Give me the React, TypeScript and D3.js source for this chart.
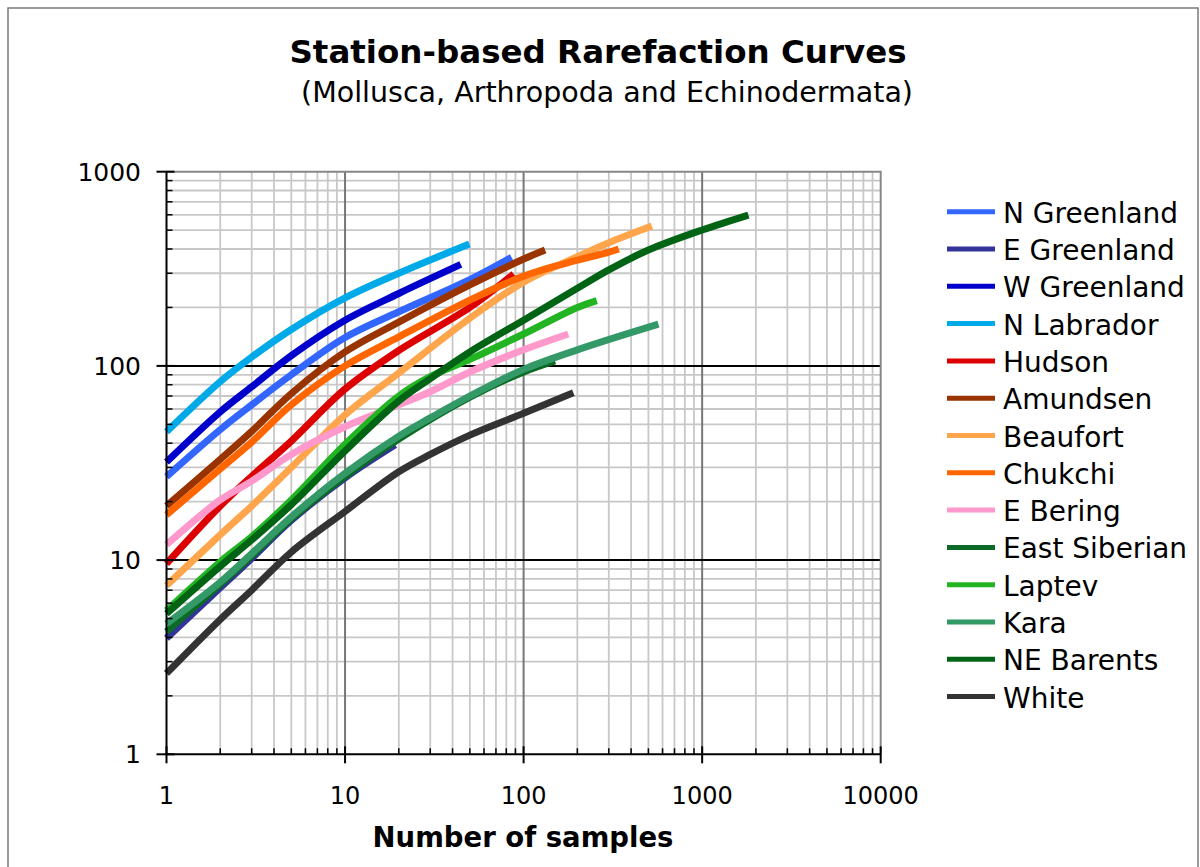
import React, { useEffect, useRef } from "react";
import * as d3 from "d3";

// [samples, species] pairs
const nGreenland = [[1, 26.9], [2, 47], [3, 63], [5, 90], [10, 140], [20, 190], [50, 278], [85.7, 362]];
const eGreenland = [[1, 3.96], [2, 7.2], [3, 10.2], [5, 16], [10, 26.5], [19.1, 39.2]];
const wGreenland = [[1, 32], [2, 58], [3, 78], [5, 113], [10, 172], [20, 236], [44.5, 333]];
const nLabrador = [[1, 45.8], [2, 83], [3, 111], [5, 154], [10, 224], [20, 300], [49.7, 424]];
const hudson = [[1, 9.6], [2, 19], [3, 27], [5, 41], [10, 76], [20, 120], [50, 200], [88, 297]];
const amundsen = [[1, 19], [2, 33], [3, 46], [5, 72], [10, 118], [20, 168], [50, 261], [100, 355], [132, 395]];
const beaufort = [[1, 7.4], [2, 13.5], [3, 19], [5, 30], [10, 56], [20, 92], [50, 176], [100, 270], [200, 365], [300, 431], [523, 525]];
const chukchi = [[1, 17.1], [2, 29.5], [3, 40.5], [5, 63], [10, 100], [20, 141], [50, 218], [100, 290], [200, 350], [300, 385], [341, 400]];
const eBering = [[1, 12], [2, 20.4], [3, 25.5], [5, 35], [10, 48.6], [20, 63], [30, 73.6], [50, 93], [100, 121], [178, 146]];
const eastSiberian = [[1, 4.28], [2, 7.5], [3, 10.5], [5, 16.3], [10, 27], [20, 42], [50, 69], [100, 93], [150, 106]];
const laptev = [[1, 5.5], [2, 9.8], [3, 13.2], [5, 20.4], [10, 39.5], [20, 70], [30, 88], [50, 108], [100, 146], [200, 200], [257, 217]];
const kara = [[1, 4.7], [2, 7.7], [3, 10.8], [5, 16.7], [10, 28], [20, 43.5], [30, 54], [50, 70], [100, 96], [200, 121], [569, 164]];
const neBarents = [[1, 5.3], [2, 9.3], [3, 12.7], [5, 19.3], [10, 36.5], [20, 66], [30, 86], [50, 118], [100, 172], [200, 251], [300, 312], [500, 395], [1000, 501], [1816, 598]];
const white = [[1, 2.61], [2, 4.95], [3, 7], [5, 11], [10, 17.8], [20, 28.5], [30, 35], [50, 44], [100, 57], [190, 72.8]];

const seriesNames = ["N Greenland", "E Greenland", "W Greenland", "N Labrador", "Hudson", "Amundsen", "Beaufort", "Chukchi", "E Bering", "East Siberian", "Laptev", "Kara", "NE Barents", "White"];
const seriesData = [nGreenland, eGreenland, wGreenland, nLabrador, hudson, amundsen, beaufort, chukchi, eBering, eastSiberian, laptev, kara, neBarents, white];
const seriesColors = ["#3366ff", "#333399", "#0000cc", "#00aae8", "#dd0000", "#993300", "#ffa64d", "#ff6600", "#ff99cc", "#0b6b26", "#22b422", "#339966", "#006414", "#333333"];

const xTicks = [1, 10, 100, 1000, 10000];
const yTicks = [1, 10, 100, 1000];

export default function App() {
  const ref = useRef(null);

  useEffect(() => {
    const width = 1200;
    const height = 867;
    const font = "'DejaVu Sans', Verdana, sans-serif";
    const svg = d3.select(ref.current).attr("width", width).attr("height", height);
    svg.selectAll("*").remove();

    const x = d3.scaleLog().domain([1, 10000]).range([166.5, 880.7]);
    const y = d3.scaleLog().domain([1, 1000]).range([754.3, 171.7]);
    const [x0, x1] = x.range();
    const [y0, y1] = y.range();

    // outer frame
    svg.append("rect").attr("x", 8).attr("y", 8).attr("width", 1190).attr("height", 880)
      .attr("fill", "#fff").attr("stroke", "#7a7a7a").attr("stroke-width", 1.5);

    // minor grid
    const minorX = x.ticks().filter((v) => !xTicks.includes(v));
    const minorY = y.ticks().filter((v) => !yTicks.includes(v));
    const grid = svg.append("g");
    grid.selectAll(".mx").data(minorX).join("line")
      .attr("x1", (d) => x(d)).attr("x2", (d) => x(d)).attr("y1", y1).attr("y2", y0)
      .attr("stroke", "#c8c8c8").attr("stroke-width", 1.8);
    grid.selectAll(".my").data(minorY).join("line")
      .attr("x1", x0).attr("x2", x1).attr("y1", (d) => y(d)).attr("y2", (d) => y(d))
      .attr("stroke", "#c8c8c8").attr("stroke-width", 1.8);

    // major grid
    grid.selectAll(".Mx").data(xTicks.slice(1, -1)).join("line")
      .attr("x1", (d) => x(d)).attr("x2", (d) => x(d)).attr("y1", y1).attr("y2", y0)
      .attr("stroke", "#777").attr("stroke-width", 2);
    grid.selectAll(".My").data(yTicks.slice(1, -1)).join("line")
      .attr("x1", x0).attr("x2", x1).attr("y1", (d) => y(d)).attr("y2", (d) => y(d))
      .attr("stroke", "#000").attr("stroke-width", 2);

    // plot border top/right
    grid.append("path").attr("d", `M${x0},${y1}H${x1}V${y0}`)
      .attr("fill", "none").attr("stroke", "#888").attr("stroke-width", 2);

    // curves
    const line = d3.line()
      .x((d) => x(d[0]))
      .y((d) => y(d[1]))
      .curve(d3.curveCatmullRom.alpha(0.5));

    svg.append("g").selectAll("path").data(seriesData).join("path")
      .attr("d", (d) => line(d))
      .attr("fill", "none")
      .attr("stroke", (d, i) => seriesColors[i])
      .attr("stroke-width", 7)
      .attr("stroke-linejoin", "round");

    // axes lines + ticks
    const ax = svg.append("g").attr("stroke", "#000");
    ax.append("line").attr("x1", x0).attr("x2", x1).attr("y1", y0).attr("y2", y0).attr("stroke-width", 2);
    ax.append("line").attr("x1", x0).attr("x2", x0).attr("y1", y1).attr("y2", y0).attr("stroke-width", 2);
    ax.selectAll(".tx").data(xTicks).join("line")
      .attr("x1", (d) => x(d)).attr("x2", (d) => x(d)).attr("y1", y0 - 8).attr("y2", y0 + 9).attr("stroke-width", 2);
    ax.selectAll(".tmx").data(minorX).join("line")
      .attr("x1", (d) => x(d)).attr("x2", (d) => x(d)).attr("y1", y0 - 6).attr("y2", y0).attr("stroke-width", 1.5);
    ax.selectAll(".ty").data(yTicks).join("line")
      .attr("x1", x0 - 10).attr("x2", x0 + 8).attr("y1", (d) => y(d)).attr("y2", (d) => y(d)).attr("stroke-width", 2);
    ax.selectAll(".tmy").data(minorY).join("line")
      .attr("x1", x0).attr("x2", x0 + 6).attr("y1", (d) => y(d)).attr("y2", (d) => y(d)).attr("stroke-width", 1.5);

    // tick labels
    svg.append("g").selectAll("text").data(xTicks).join("text")
      .attr("x", (d) => x(d)).attr("y", 804)
      .attr("text-anchor", "middle").attr("font-family", font).attr("font-size", 24).attr("fill", "#000")
      .text((d) => d3.format("d")(d));
    svg.append("g").selectAll("text").data(yTicks).join("text")
      .attr("x", 141).attr("y", (d) => y(d) + 9)
      .attr("text-anchor", "end").attr("font-family", font).attr("font-size", 25).attr("fill", "#000")
      .text((d) => d3.format("d")(d));

    // axis title
    svg.append("text").attr("x", 523).attr("y", 847)
      .attr("text-anchor", "middle").attr("font-family", font).attr("font-size", 27.5)
      .attr("font-weight", "700").attr("fill", "#000").text("Number of samples");

    // titles
    svg.append("text").attr("x", 598).attr("y", 63)
      .attr("text-anchor", "middle").attr("font-family", font).attr("font-size", 32.5)
      .attr("font-weight", "700").attr("fill", "#000").text("Station-based Rarefaction Curves");
    svg.append("text").attr("x", 607).attr("y", 102)
      .attr("text-anchor", "middle").attr("font-family", font).attr("font-size", 28.5)
      .attr("fill", "#000").text("(Mollusca, Arthropoda and Echinodermata)");

    // legend
    const lg = svg.append("g").attr("transform", "translate(947,211.7)");
    const rows = lg.selectAll("g").data(seriesNames).join("g")
      .attr("transform", (d, i) => `translate(0,${i * 37.3})`);
    rows.append("line").attr("x1", 0).attr("x2", 48).attr("y1", 0).attr("y2", 0)
      .attr("stroke", (d, i) => seriesColors[i]).attr("stroke-width", 5);
    rows.append("text").attr("x", 56).attr("y", 11)
      .attr("font-family", font).attr("font-size", 28).attr("fill", "#000")
      .text((d) => d);
  }, []);

  return (
    <div style={{ position: "absolute", left: 0, top: 0 }}>
      <svg ref={ref} style={{ display: "block" }} />
    </div>
  );
}
